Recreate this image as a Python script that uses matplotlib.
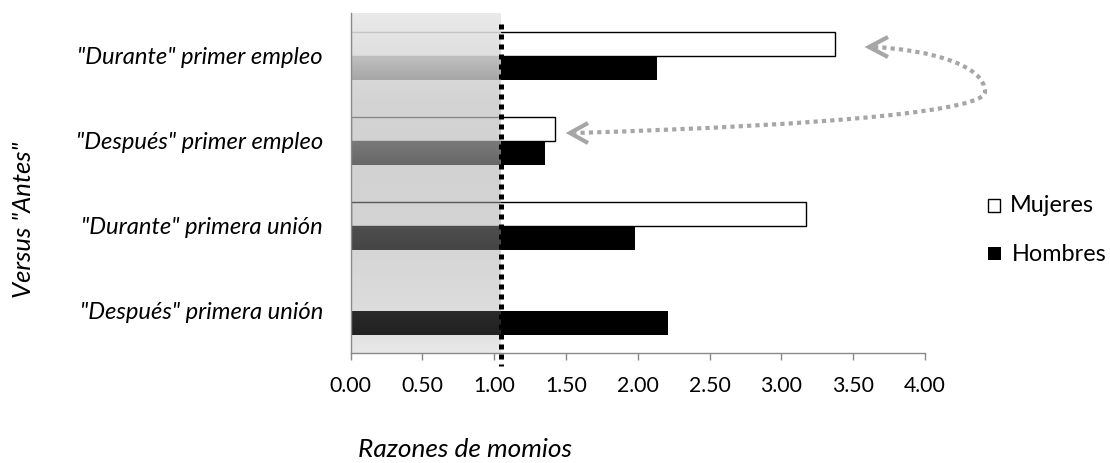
import numpy as np
import matplotlib
matplotlib.use("Agg")
import matplotlib.pyplot as plt
import matplotlib.transforms as mtransforms
from matplotlib.path import Path
from matplotlib.patches import PathPatch, Rectangle

# ---------------- data ----------------
categories = ['"Durante" primer empleo', '"Después" primer empleo',
              '"Durante" primera unión', '"Después" primera unión']
mujeres = [3.37, 1.42, 3.17, np.nan]
hombres = [2.13, 1.35, 1.98, 2.21]
ref_line = 1.05
shade_end = 1.04
xticks = [0.0, 0.5, 1.0, 1.5, 2.0, 2.5, 3.0, 3.5, 4.0]
xtick_labels = ['0.00', '0.50', '1.00', '1.50', '2.00', '2.50', '3.00', '3.50', '4.00']
legend_labels = ['Mujeres', 'Hombres']
xlabel = 'Razones de momios'
ylabel = 'Versus "Antes"'

# ---------------- figure ----------------
W, H = 1110, 463
FONT = 'Lato'
plt.rcParams['font.family'] = [FONT, 'DejaVu Sans']
fig = plt.figure(figsize=(W / 100, H / 100), dpi=100)
fig.patch.set_facecolor('white')
px = mtransforms.Affine2D().scale(1 / W, -1 / H).translate(0, 1) + fig.transFigure

ax_l, ax_r, ax_t, ax_b = 350.7, 925.0, 13.3, 353.3
ax = fig.add_axes([ax_l / W, 1 - ax_b / H, (ax_r - ax_l) / W, (ax_b - ax_t) / H])
ax.set_facecolor('none')

renderer = fig.canvas.get_renderer()


def fit(s, target, vertical=False, **kw):
    t = fig.text(0, 0, s, fontsize=20, **kw)
    bb = t.get_window_extent(renderer)
    t.remove()
    w = bb.height if vertical else bb.width
    return 20 * target / w


fs_cat = fit(categories[0], 245, style='italic')
fs_tick = fit('0.00', 42)
fs_leg = fit('Hombres', 95)
fs_xl = fit('momios', 85, style='italic')
fs_yl = fit(ylabel, 156, vertical=True, style='italic', rotation=90)

y = np.arange(len(categories))
bh = 24 / 85.0
ax.barh(y - bh / 2, np.nan_to_num(mujeres), height=bh, color='white',
        edgecolor=['black' if not np.isnan(v) else 'none' for v in mujeres],
        linewidth=1.0, zorder=2)
ax.barh(y + bh / 2, hombres, height=bh, color='black', edgecolor='none', zorder=2)

ax.set_xlim(0, 4)
ax.set_ylim(len(categories) - 0.5, -0.5)

# ---------- translucent gradient panel over the left part ----------
N = 340
rows_real = ax_t + np.arange(N) + 0.5
anc_y = np.array([13, 45, 60, 80, 100, 145, 165, 239, 324, 353])
anc_w = np.array([234, 226, 222, 216, 212, 210, 210, 212, 222, 232], float)
anc_b = np.array([205, 196, 190, 168, 150, 120, 104, 74, 38, 28], float)
bw = np.interp(rows_real, anc_y, anc_w)
bb_ = np.interp(rows_real, anc_y, anc_b)
alpha = 1 - (bw - bb_) / 255.0
col = np.clip(bb_ / alpha, 0, 255) / 255.0
img = np.zeros((N, 1, 4))
img[:, 0, 0] = col
img[:, 0, 1] = col
img[:, 0, 2] = col
img[:, 0, 3] = alpha
ax.imshow(img, extent=(0, shade_end, len(categories) - 0.5, -0.5),
          aspect='auto', interpolation='bilinear', zorder=3)
ax.set_xlim(0, 4)
ax.set_ylim(len(categories) - 0.5, -0.5)

# ---------- dotted reference line ----------
blend = mtransforms.blended_transform_factory(ax.transData, ax.transAxes)
y_top = 1 - (24 - ax_t) / (ax_b - ax_t)
y_bot = (ax_b - 366) / (ax_b - ax_t)
ax.plot([ref_line, ref_line], [y_top, y_bot], transform=blend, color='black',
        lw=3.6, linestyle=(0, (1, 1)), dash_capstyle='butt', clip_on=False, zorder=5)

# ---------- axes styling ----------
for s in ['top', 'right']:
    ax.spines[s].set_visible(False)
for s in ['left', 'bottom']:
    ax.spines[s].set_color('#898989')
    ax.spines[s].set_linewidth(1.0)
    ax.spines[s].set_zorder(4)
ax.set_xticks(xticks, labels=xtick_labels)
ax.tick_params(axis='x', direction='out', length=5.2, width=1.0, color='#898989',
               labelsize=fs_tick, pad=11.5, labelcolor='black')
ax.set_yticks(y, labels=categories, va='center_baseline', fontstyle='italic')
ax.tick_params(axis='y', length=0, labelsize=fs_cat, pad=20, labelcolor='black')

# ---------- axis titles ----------
fig.text(572 / W, 1 - 457 / H, xlabel, ha='right', va='baseline',
         fontsize=fs_xl, style='italic')
fig.text(24 / W, 1 - 220 / H, ylabel, ha='center', va='center', rotation=90,
         fontsize=fs_yl, style='italic')

# ---------- legend ----------
fig.add_artist(Rectangle((988, 198.5), 12, 13, transform=px, facecolor='white',
                         edgecolor='black', linewidth=1.0))
fig.add_artist(Rectangle((988, 247), 13, 13, transform=px, facecolor='black',
                         edgecolor='none'))
fig.text(1010 / W, 1 - 212.5 / H, legend_labels[0], ha='left', va='baseline', fontsize=fs_leg)
fig.text(1012 / W, 1 - 261 / H, legend_labels[1], ha='left', va='baseline', fontsize=fs_leg)

# ---------- curved dotted double arrow ----------
gray = '#a6a6a6'
verts = [(874, 47), (930, 50), (985, 65), (985, 92),
         (985, 110), (840, 125), (575, 133)]
codes = [Path.MOVETO, Path.CURVE4, Path.CURVE4, Path.CURVE4,
         Path.CURVE4, Path.CURVE4, Path.CURVE4]
fig.add_artist(PathPatch(Path(verts, codes), transform=px, fill=False,
                         edgecolor=gray, lw=3.0, linestyle=(0, (1, 1)),
                         capstyle='butt'))
for tip, a1, a2 in [((869, 47), (888, 37), (888, 57)),
                    ((570, 133), (588, 123), (588, 143))]:
    fig.add_artist(PathPatch(Path([a1, tip, a2]), transform=px, fill=False,
                             edgecolor=gray, lw=3.0, joinstyle='miter'))

fig.savefig('out.png', dpi=100)
